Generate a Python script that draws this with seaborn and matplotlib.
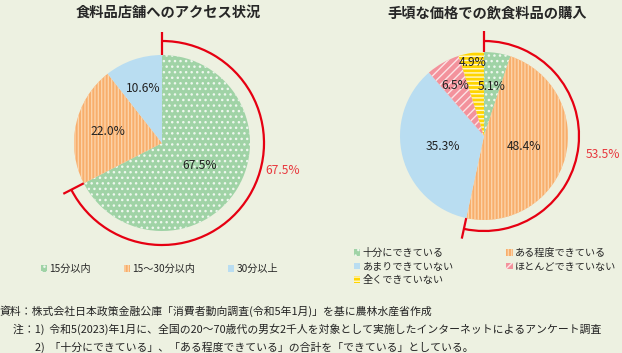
import numpy as np
import matplotlib
matplotlib.use('Agg')
import matplotlib.pyplot as plt
from matplotlib.patches import Arc
import seaborn as sns

# ---- data ----
access_title = '食料品店舗へのアクセス状況'
access_labels = ['15分以内', '15～30分以内', '30分以上']
access_values = [67.5, 22.0, 10.6]
access_total = 67.5          # 15分以内

buy_title = '手頃な価格での飲食料品の購入'
buy_labels = ['十分にできている', 'ある程度できている', 'あまりできていない',
              'ほとんどできていない', '全くできていない']
buy_values = [5.1, 48.4, 35.3, 6.5, 4.9]
buy_total = 53.5             # 十分に + ある程度

source_lines = [
    '資料：株式会社日本政策金融公庫「消費者動向調査(令和5年1月)」を基に農林水産省作成',
    '注：1)  令和5(2023)年1月に、全国の20～70歳代の男女2千人を対象として実施したインターネットによるアンケート調査',
    '2)  「十分にできている」、「ある程度できている」の合計を「できている」としている。',
]

# ---- style ----
BG = '#EDF1E1'
RED = '#E60012'
RED_TXT = '#E8383D'
W, H = 622, 353

sns.set_theme(style='white', rc={'figure.facecolor': BG, 'axes.facecolor': BG})
plt.rcParams['font.family'] = ['Noto Sans CJK JP', 'DejaVu Sans']
plt.rcParams['hatch.linewidth'] = 1.0

access_colors = ['#A0D3A6', '#F8AE6C', '#B9DDF1']
access_hatch = ['...', '|||||', '']
access_hcol = ['#EEF7EE', '#FCD3A8', '#B9DDF1']

buy_colors = ['#A0D3A6', '#F8AE6C', '#B9DDF1', '#F3929C', '#FFD500']
buy_hatch = ['...', '|||||', '', '////', '----']
buy_hcol = ['#EEF7EE', '#FCD3A8', '#B9DDF1', '#FCE3E6', '#FFF7CC']


def py(y):
    # pixel row (from top) -> data y
    return H - y


def draw_pie(ax, values, colors, hatches, hcols, center, radius, dists):
    wedges, _ = ax.pie(values, colors=colors, startangle=90, counterclock=False,
                       center=center, radius=radius, frame=True,
                       wedgeprops=dict(linewidth=0))
    for w, h, hc, v, d in zip(wedges, hatches, hcols, values, dists):
        w.set_hatch(h)
        w.set_edgecolor(hc)
        mid = np.deg2rad((w.theta1 + w.theta2) / 2)
        ax.text(center[0] + d * radius * np.cos(mid), center[1] + d * radius * np.sin(mid),
                f'{v:.1f}%', ha='center', va='center', fontsize=8.7, color='#222222')
    return wedges


def draw_bracket(ax, center, start, r_arc, r_in, r_out, total, txt_xy):
    ax.add_patch(Arc(center, 2 * r_arc, 2 * r_arc, theta1=start, theta2=90,
                     color=RED, lw=1.6))
    for ang in (start, 90):
        a = np.deg2rad(ang)
        ax.plot([center[0] + r_in * np.cos(a), center[0] + r_out * np.cos(a)],
                [center[1] + r_in * np.sin(a), center[1] + r_out * np.sin(a)],
                color=RED, lw=1.6, solid_capstyle='butt')
    ax.text(txt_xy[0], txt_xy[1], f'{total:.1f}%', ha='center', va='center',
            fontsize=8.7, color=RED_TXT)


fig = plt.figure(figsize=(6.22, 3.53), dpi=100)
ax = fig.add_axes([0, 0, 1, 1])

# left pie
c1 = (162, py(143))
w1 = draw_pie(ax, access_values, access_colors, access_hatch, access_hcol,
              c1, 88, [0.5, 0.63, 0.65])
draw_bracket(ax, c1, w1[0].theta1, 102, 88, 111, access_total, (283, py(171)))

# right pie
c2 = (484, py(136))
w2 = draw_pie(ax, buy_values, buy_colors, buy_hatch, buy_hcol,
              c2, 84, [0.6, 0.49, 0.5, 0.69, 0.89])
draw_bracket(ax, c2, w2[1].theta1, 95, 84, 105, buy_total, (603, py(155)))

# titles
ax.text(168, py(13), access_title, ha='center', va='center', fontsize=10.3, fontweight='bold')
ax.text(487, py(13), buy_title, ha='center', va='center', fontsize=10.3, fontweight='bold')

# legends
leg_kw = dict(frameon=False, fontsize=7.3, handlelength=0.6, handleheight=0.6,
              handletextpad=0.25, borderpad=0, borderaxespad=0, loc='upper left',
              bbox_transform=ax.transData)
leg1 = ax.legend(w1, access_labels, ncol=3, columnspacing=3.2,
                 bbox_to_anchor=(41, py(264)), **leg_kw)
ax.add_artist(leg1)
order = [0, 2, 4, 1, 3]
ax.legend([w2[i] for i in order], [buy_labels[i] for i in order], ncol=2,
          columnspacing=5.2, labelspacing=0.35,
          bbox_to_anchor=(354, py(248)), **leg_kw)

# footer
for x, y, s in zip([0, 13, 35], [311, 329, 347], source_lines):
    ax.text(x, py(y), s, ha='left', va='center', fontsize=7.8, color='#222222')

ax.set_xlim(0, W)
ax.set_ylim(0, H)
ax.set_aspect('equal')
ax.axis('off')

fig.savefig('out.png', dpi=100, facecolor=BG)
